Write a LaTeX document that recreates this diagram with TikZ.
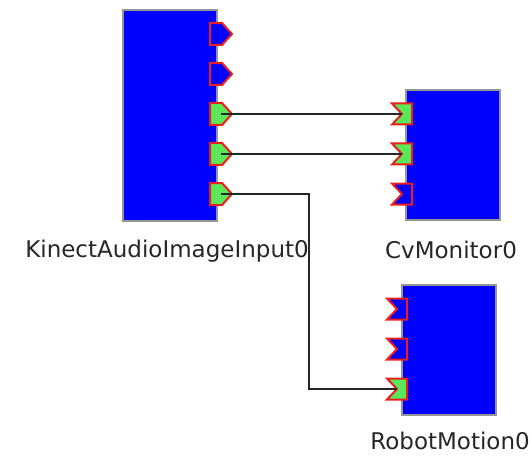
\documentclass[tikz,border=0pt]{standalone}
\usepackage{fontspec}
\setmainfont{DejaVu Sans}
\definecolor{compblue}{RGB}{0,0,255}
\definecolor{compedge}{RGB}{150,150,150}
\definecolor{portgreen}{RGB}{90,232,90}
\definecolor{portred}{RGB}{235,30,30}
\tikzset{
  comp/.style={draw=compedge, line width=1.2pt, fill=compblue, inner sep=0pt, outer sep=0pt, anchor=north west},
  complabel/.style={anchor=base, font=\fontsize{23}{26}\selectfont, text=black!85, inner sep=0pt},
  portline/.style={draw=portred, line width=2pt, line join=miter},
  wire/.style={draw=black!85, line width=1.8pt},
  outport/.pic={
    \path[portline, fill=#1] (-11,-11) -- (1,-11) -- (11,0) -- (1,11) -- (-11,11) -- cycle;
    \coordinate (-w) at (0,0);
  },
  inport/.pic={
    \path[portline, fill=#1] (-10,-10.5) -- (10,-10.5) -- (10,10.5) -- (-10,10.5) -- (0,0) -- cycle;
    \coordinate (-w) at (0,0);
  },
}
\begin{document}
\begin{tikzpicture}[x=1pt, y=-1pt]
\useasboundingbox (0,0) rectangle (532,457);

% components
\node[comp, minimum width=94pt, minimum height=211pt] (kin) at (123,10) {};
\node[comp, minimum width=94pt, minimum height=130pt] (cvm) at (406,90) {};
\node[comp, minimum width=94pt, minimum height=130pt] (rob) at (402,285) {};

% component names
\node[complabel] (kinname) at (167,257) {KinectAudioImageInput0};
\node[complabel] (cvmname) at (451,258) {CvMonitor0};
\node[complabel] (robname) at (450,449) {RobotMotion0};

% output ports of KinectAudioImageInput0
\pic (ko1) at (221,34)  {outport=compblue};
\pic (ko2) at (221,74)  {outport=compblue};
\pic (ko3) at (221,114) {outport=portgreen};
\pic (ko4) at (221,154) {outport=portgreen};
\pic (ko5) at (221,194) {outport=portgreen};

% input ports of CvMonitor0
\pic (ci1) at (402,114) {inport=portgreen};
\pic (ci2) at (402,154) {inport=portgreen};
\pic (ci3) at (402,194) {inport=compblue};

% input ports of RobotMotion0
\pic (ri1) at (397,309) {inport=compblue};
\pic (ri2) at (397,349) {inport=compblue};
\pic (ri3) at (397,389) {inport=portgreen};

% connections
\coordinate (elbow) at (309,300);
\draw[wire] (ko3-w) -- (ci1-w);
\draw[wire] (ko4-w) -- (ci2-w);
\draw[wire] (ko5-w) -| (elbow) |- (ri3-w);
\end{tikzpicture}
\end{document}
